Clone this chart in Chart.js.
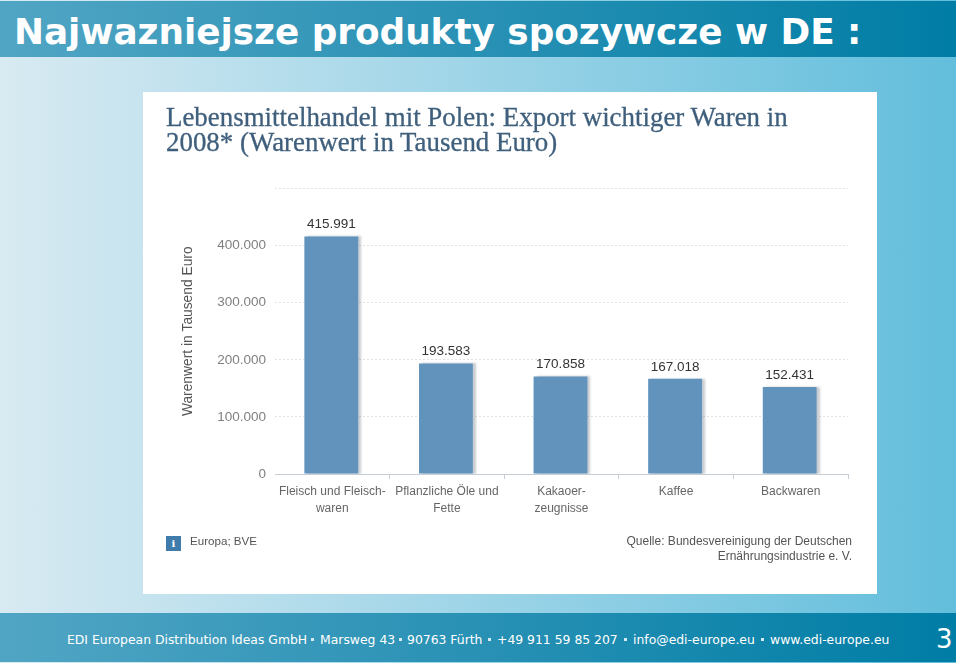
<!DOCTYPE html>
<html lang="de">
<head>
<meta charset="utf-8">
<title>Najwazniejsze produkty spozywcze w DE</title>
<script src="https://cdn.jsdelivr.net/npm/chart.js@4"></script>
<style>
    html, body { margin: 0; padding: 0; background: #fff; }
    #slide { position: relative; width: 956px; height: 663px; overflow: hidden; background: linear-gradient(90deg, #d8eaf2, #62bedc); }
    #head { position: absolute; left: 0; top: 1px; width: 956px; height: 56px; background: linear-gradient(90deg, #51a5c4, #007da5); }
    #head span { position: absolute; left: 14px; top: 10px; font: bold 35.8px "DejaVu Sans"; color: #fff; white-space: nowrap; }
    #foot { position: absolute; left: 0; top: 613px; width: 956px; height: 49px; background: linear-gradient(90deg, #51a5c4, #007da5); }
    #foot span { position: absolute; top: 19px; font: 12.4px "DejaVu Sans"; color: #fff; white-space: nowrap; }
    #foot i { position: absolute; top: 25px; width: 3px; height: 3px; background: #d5eaf2; }
    #foot b { position: absolute; left: 936px; top: 11px; font: normal 26px "DejaVu Sans"; color: #fff; }
    #panel { position: absolute; left: 143px; top: 92px; width: 734px; height: 502px; background: #fff; }
    #panel canvas { position: absolute; left: 0; top: 0; }
    #title { position: absolute; left: 23px; top: 13px; font: 26.9px/25px "Liberation Serif"; color: #3f5f7c; white-space: nowrap; -webkit-text-stroke: 0.3px #3f5f7c; }
    #info { position: absolute; left: 23px; top: 444px; width: 15px; height: 15px; background: #3f7cab; color: #fff; font: bold 10px/15px "DejaVu Serif"; text-align: center; }
    #region { position: absolute; left: 47px; top: 442px; font: 11.6px "Liberation Sans"; color: #555; }
    #source { position: absolute; right: 25px; top: 442px; font: 12px/15px "Liberation Sans"; color: #555; text-align: right; }
</style>
</head>
<body>
<div id="slide">
    <div id="head"><span>Najwazniejsze produkty spozywcze w DE :</span></div>
    <div id="panel">
        <canvas id="exportChart" width="734" height="502"></canvas>
        <div id="title">Lebensmittelhandel mit Polen: Export wichtiger Waren in<br>2008* (Warenwert in Tausend Euro)</div>
        <div id="info">i</div>
        <div id="region">Europa; BVE</div>
        <div id="source">Quelle: Bundesvereinigung der Deutschen<br>Ernährungsindustrie e. V.</div>
    </div>
    <div id="foot">
        <span style="left:67px">EDI European Distribution Ideas GmbH</span><i style="left:311px"></i>
        <span style="left:320px">Marsweg 43</span><i style="left:399px"></i>
        <span style="left:407px">90763 Fürth</span><i style="left:488px"></i>
        <span style="left:497px">+49 911 59 85 207</span><i style="left:624px"></i>
        <span style="left:633px">info@edi-europe.eu</span><i style="left:761px"></i>
        <span style="left:770px">www.edi-europe.eu</span>
        <b>3</b>
    </div>
</div>
<script>
const categories = [['Fleisch und Fleisch-', 'waren'], ['Pflanzliche Öle und', 'Fette'], ['Kakaoer-', 'zeugnisse'], 'Kaffee', 'Backwaren'];
const exportValues = [415991, 193583, 170858, 167018, 152431];
const axisTop = 500000;
const axisStep = 100000;

function formatDe(value) {
    return value.toLocaleString('de-DE');
}

// Schatten rechts neben den Balken, alles 1px nach links wie im Original
const barShadow = {
    id: 'barShadow',
    beforeDatasetDraw(chart) {
        const ctx = chart.ctx;
        ctx.save();
        ctx.translate(-1, 0);
        ctx.shadowColor = 'rgba(120, 130, 140, 0.4)';
        ctx.shadowBlur = 2;
        ctx.shadowOffsetX = 3;
        ctx.shadowOffsetY = 0;
    },
    afterDatasetDraw(chart) {
        chart.ctx.restore();
    }
};

// Werte ueber den Balken
const valueLabels = {
    id: 'valueLabels',
    afterDatasetsDraw(chart) {
        const ctx = chart.ctx;
        ctx.save();
        ctx.font = '13.5px "Liberation Sans"';
        ctx.fillStyle = '#333';
        ctx.textAlign = 'center';
        ctx.textBaseline = 'alphabetic';
        chart.getDatasetMeta(0).data.forEach((bar, i) => {
            ctx.fillText(formatDe(exportValues[i]), bar.x - 1, bar.y - 8);
        });
        ctx.restore();
    }
};

new Chart(document.getElementById('exportChart'), {
    type: 'bar',
    data: {
        labels: categories,
        datasets: [{
            data: exportValues,
            backgroundColor: '#6193bd',
            borderWidth: 0,
            barPercentage: 0.47,
            categoryPercentage: 1
        }]
    },
    plugins: [barShadow, valueLabels],
    options: {
        responsive: false,
        animation: false,
        layout: { padding: { left: 36.5, right: 29, top: 96.5, bottom: 0 } },
        plugins: {
            legend: { display: false },
            tooltip: { enabled: false }
        },
        scales: {
            x: {
                afterFit(scale) { scale.height = 120; },
                grid: {
                    drawOnChartArea: false,
                    tickLength: 5,
                    tickColor: ctx => ctx.index === 0 ? 'transparent' : '#c5ced6'
                },
                border: { color: '#c5ced6' },
                ticks: {
                    color: '#666',
                    font: { family: 'Liberation Sans', size: 12, lineHeight: 1.42 },
                    maxRotation: 0,
                    autoSkip: false,
                    padding: 4
                }
            },
            y: {
                min: 0,
                max: axisTop,
                afterFit(scale) { scale.width = 95.5; },
                border: { display: false, dash: [2, 2] },
                grid: {
                    color: ctx => ctx.tick.value === 0 ? 'transparent' : '#e2e2e2',
                    lineWidth: 1,
                    tickLength: 0
                },
                title: {
                    display: true,
                    text: 'Warenwert in Tausend Euro',
                    color: '#555',
                    font: { family: 'Liberation Sans', size: 13.8 },
                    padding: 0
                },
                ticks: {
                    stepSize: axisStep,
                    color: '#808080',
                    font: { family: 'Liberation Sans', size: 13.5 },
                    padding: 9,
                    callback: value => value === axisTop ? '' : formatDe(value)
                }
            }
        }
    }
});
</script>
</body>
</html>
